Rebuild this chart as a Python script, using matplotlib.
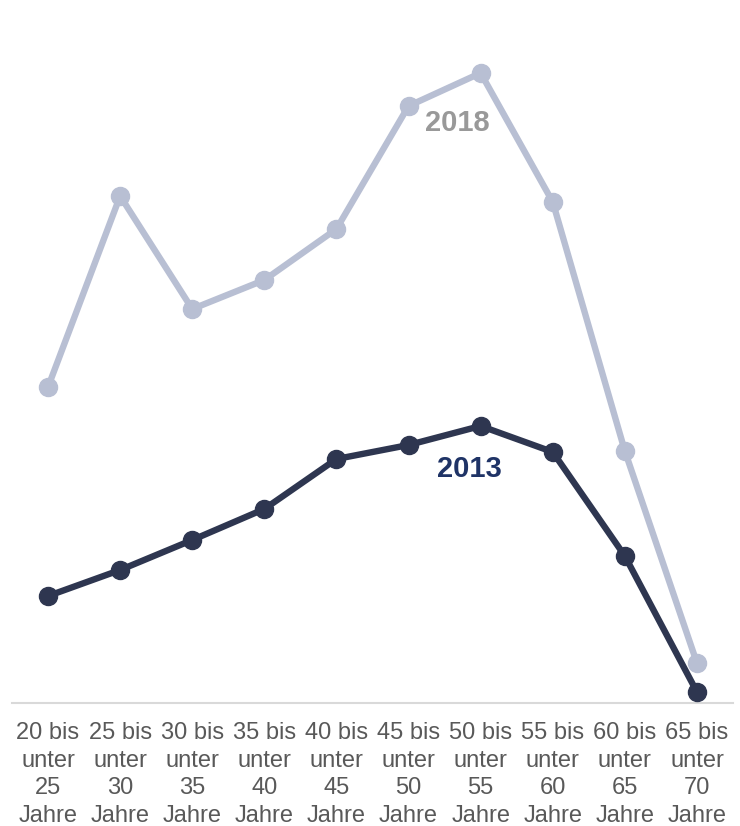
import matplotlib.pyplot as plt

plt.rcParams['font.family'] = ['Liberation Sans', 'DejaVu Sans']

# Altersgruppen
categories = ['20 bis\nunter\n25\nJahre', '25 bis\nunter\n30\nJahre', '30 bis\nunter\n35\nJahre',
              '35 bis\nunter\n40\nJahre', '40 bis\nunter\n45\nJahre', '45 bis\nunter\n50\nJahre',
              '50 bis\nunter\n55\nJahre', '55 bis\nunter\n60\nJahre', '60 bis\nunter\n65\nJahre',
              '65 bis\nunter\n70\nJahre']

# Werte (aus dem Bild geschätzt)
values_2018 = [316, 507, 394, 423, 474, 597, 630, 501, 252, 40]
values_2013 = [107, 133, 163, 194, 244, 258, 277, 251, 147, 11]

x = list(range(len(categories)))

fig = plt.figure(figsize=(7.4, 8.26), dpi=100)
ax = fig.add_axes([12 / 740, 123 / 826, 721 / 740, 683 / 826])

ax.plot(x, values_2018, color='#B8BFD3', lw=4.6, marker='o', ms=13,
        solid_capstyle='round', zorder=2)
ax.plot(x, values_2013, color='#2E3650', lw=4.6, marker='o', ms=13,
        solid_capstyle='round', zorder=3)

ax.text(5.68, 580, '2018', color='#999999', fontsize=21, fontweight='bold',
        ha='center', va='center')
ax.text(5.84, 234, '2013', color='#1F3366', fontsize=21, fontweight='bold',
        ha='center', va='center')

ax.set_xlim(-0.5, 9.5)
ax.set_ylim(0, 683)
ax.set_xticks(x)
ax.set_xticklabels(categories, fontsize=17, color='#595959', linespacing=1.32)
ax.tick_params(axis='x', length=0, pad=14)
ax.set_yticks([])

for s in ['top', 'right', 'left']:
    ax.spines[s].set_visible(False)
ax.spines['bottom'].set_color('#D9D9D9')
ax.spines['bottom'].set_linewidth(1.5)

plt.savefig('out.png', dpi=100)
plt.close()
